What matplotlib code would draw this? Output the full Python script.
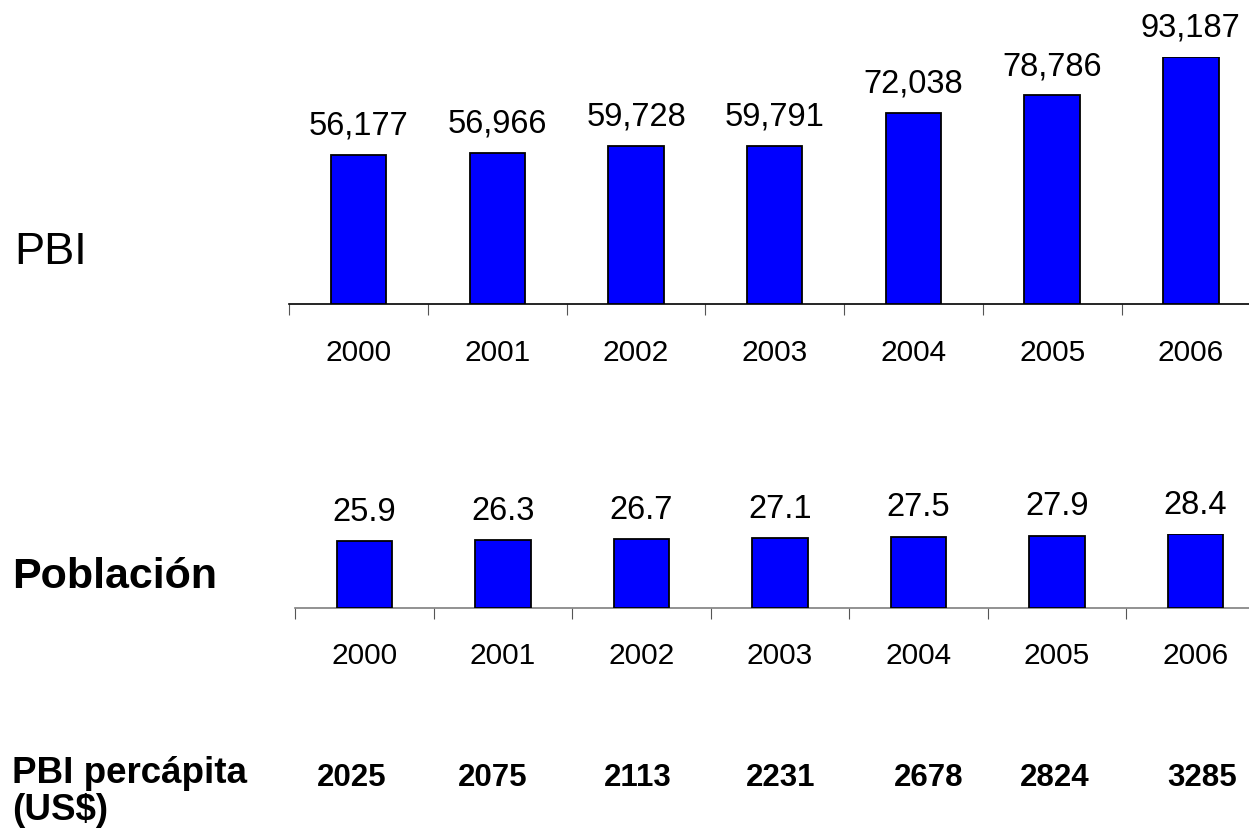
import matplotlib
matplotlib.use("Agg")
import matplotlib.pyplot as plt
import numpy as np

years = ["2000", "2001", "2002", "2003", "2004", "2005", "2006"]
pbi = [56177, 56966, 59728, 59791, 72038, 78786, 93187]
poblacion = [25.9, 26.3, 26.7, 27.1, 27.5, 27.9, 28.4]
pbi_percapita = [2025, 2075, 2113, 2231, 2678, 2824, 3285]

W, H = 1249, 834
REG = ["Liberation Sans", "Arial", "DejaVu Sans"]

fig = plt.figure(figsize=(W / 100, H / 100), dpi=100)
fig.patch.set_facecolor("white")


def px_axes(left, base, width, height):
    return fig.add_axes([left / W, (H - base) / H, width / W, height / H])


def draw_bars(ax, values, fmt, spine_color, ymax):
    x = np.arange(len(values)) + 0.5
    ax.bar(x, values, width=0.40, color="#0000FF", edgecolor="black",
           linewidth=1.3, zorder=3)
    ax.set_xlim(0, len(values))
    ax.set_ylim(0, ymax)
    for s in ["top", "right", "left"]:
        ax.spines[s].set_visible(False)
    ax.spines["bottom"].set_color(spine_color)
    ax.spines["bottom"].set_linewidth(1.2)
    ax.set_yticks([])
    ax.set_xticks(np.arange(len(values) + 1))
    ax.set_xticklabels([])
    ax.tick_params(axis="x", which="major", direction="out", length=8,
                   width=0.8, color="#555555")
    ax.set_xticks(x, minor=True)
    ax.set_xticklabels(years, minor=True, fontsize=21.5, family=REG)
    ax.tick_params(axis="x", which="minor", length=0, pad=25)
    for xi, v in zip(x, values):
        ax.annotate(fmt(v), (xi, v), xytext=(0, 14.5), textcoords="offset points",
                    ha="center", va="baseline", fontsize=23.5, family=REG,
                    annotation_clip=False)
    ax.patch.set_alpha(0)


# PBI
ax1 = px_axes(289.3, 304, 7 * 138.7, 247)
draw_bars(ax1, pbi, lambda v: f"{v:,}", "black", max(pbi))

# Poblacion
ax2 = px_axes(295.3, 607.7, 7 * 138.5, 73.4)
draw_bars(ax2, poblacion, lambda v: f"{v:.1f}", "#7f7f7f", max(poblacion))

# left labels
fig.text(14 / W, 1 - 264 / H, "PBI", fontsize=32.5, family=REG,
         ha="left", va="baseline")
fig.text(12 / W, 1 - 588 / H, "Población", fontsize=31, family=REG,
         fontweight="bold", ha="left", va="baseline")
fig.text(12 / W, 1 - 783 / H, "PBI percápita", fontsize=26.5,
         family=REG, fontweight="bold", ha="left", va="baseline")
fig.text(12 / W, 1 - 820 / H, "(US$)", fontsize=26.5,
         family=REG, fontweight="bold", ha="left", va="baseline")

# per-capita row
percap_x = [352, 493, 638, 781, 929, 1055, 1202]
for xp, v in zip(percap_x, pbi_percapita):
    fig.text(xp / W, 1 - 786 / H, str(v), fontsize=22.5, family=REG,
             fontweight="bold", ha="center", va="baseline")

fig.savefig("out.png", dpi=100)
